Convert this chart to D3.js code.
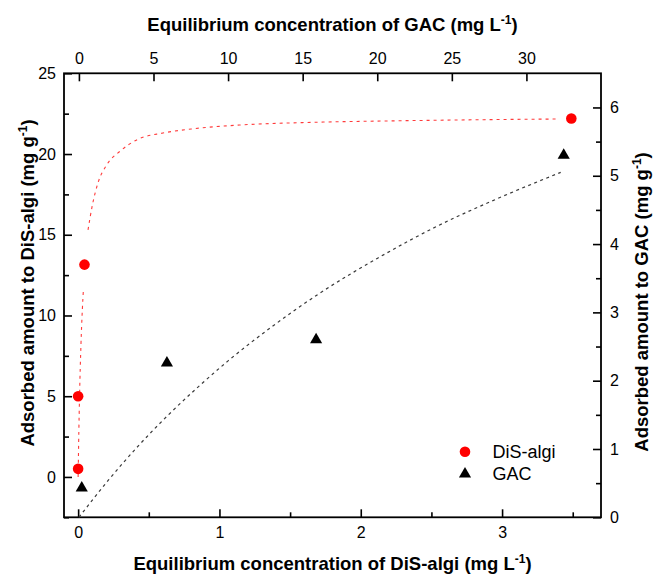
<!DOCTYPE html>
<html>
<head>
<meta charset="utf-8">
<script src="https://cdn.jsdelivr.net/npm/d3@7"></script>
<style>
  html, body { margin: 0; padding: 0; background: #fff; }
  svg { display: block; font-family: "Liberation Sans", Arial, sans-serif; }
</style>
</head>
<body>
<svg id="chart" width="653" height="577"></svg>
<script>
// ---- Data ----
// DiS-algi (bottom x / left y)
const disConc = [0, 0, 0.045, 3.49];
const disAmount = [0.5, 5.0, 13.15, 22.2];
// GAC (top x / right y)
const gacConc = [0.19, 5.9, 15.9, 32.5];
const gacAmount = [0.43, 2.26, 2.6, 5.3];

// Fitted isotherm curves
const disFitLowConc = [0, 0.005, 0.01, 0.02, 0.03, 0.038];
const disFitLowAmount = [0, 2.8, 5.0, 8.2, 10.4, 11.7];
const disFitHighConc = [0.07, 0.1, 0.14, 0.2, 0.3, 0.42, 0.6, 0.8, 1.15, 1.6, 2.2, 2.8, 3.4];
const disFitHighAmount = [15.3, 16.8, 18.2, 19.3, 20.2, 20.9, 21.3, 21.55, 21.8, 21.95, 22.05, 22.12, 22.17];
const gacFitConc = [0, 2, 4, 6, 8, 10, 13, 16, 20, 24, 28, 32.3];
const gacFitAmount = [0, 0.55, 1.05, 1.5, 1.91, 2.29, 2.8, 3.26, 3.79, 4.26, 4.66, 5.05];

// Ticks
const bottomMajor = [0, 1, 2, 3];
const bottomMinor = [0.5, 1.5, 2.5, 3.5];
const topMajor = [0, 5, 10, 15, 20, 25, 30];
const leftMajor = [0, 5, 10, 15, 20, 25];
const leftMinor = [-2.5, 2.5, 7.5, 12.5, 17.5, 22.5];
const rightMajor = [0, 1, 2, 3, 4, 5, 6];
const rightMinor = [0.5, 1.5, 2.5, 3.5, 4.5, 5.5];

const legendLabels = ["DiS-algi", "GAC"];

// ---- Layout ----
const L = 64, R = 601, T = 73.3, B = 517.3;
const svg = d3.select("#chart");

const xB = d3.scaleLinear().domain([-0.1, 3.7]).range([L, R]);
const xT = d3.scaleLinear().domain([-1, 35]).range([L, R]);
const yL = d3.scaleLinear().domain([-2.5, 25]).range([B, T]);
const yR = d3.scaleLinear().domain([0, 6.5]).range([B, T]);

const tickFont = 16;
function styleAxis(g) {
  g.select(".domain").remove();
  g.selectAll(".tick line").attr("stroke", "#000").attr("stroke-width", 1.6);
  g.selectAll(".tick text").attr("font-size", tickFont).attr("fill", "#000")
    .attr("font-family", '"Liberation Sans", Arial, sans-serif');
}

// Bottom
svg.append("g").attr("transform", `translate(0,${B})`)
  .call(d3.axisBottom(xB).tickValues(bottomMajor).tickSizeInner(-8).tickSizeOuter(0).tickPadding(9).tickFormat(d3.format("d")))
  .call(styleAxis);
svg.append("g").attr("transform", `translate(0,${B})`)
  .call(d3.axisBottom(xB).tickValues(bottomMinor).tickSizeInner(-5).tickSizeOuter(0).tickFormat(""))
  .call(styleAxis);
// Top
svg.append("g").attr("transform", `translate(0,${T})`)
  .call(d3.axisTop(xT).tickValues(topMajor).tickSizeInner(-8).tickSizeOuter(0).tickPadding(9).tickFormat(d3.format("d")))
  .call(styleAxis);
// Left
svg.append("g").attr("transform", `translate(${L},0)`)
  .call(d3.axisLeft(yL).tickValues(leftMajor).tickSizeInner(-8).tickSizeOuter(0).tickPadding(8).tickFormat(d3.format("d")))
  .call(styleAxis);
svg.append("g").attr("transform", `translate(${L},0)`)
  .call(d3.axisLeft(yL).tickValues(leftMinor).tickSizeInner(-5).tickSizeOuter(0).tickFormat(""))
  .call(styleAxis);
// Right
svg.append("g").attr("transform", `translate(${R},0)`)
  .call(d3.axisRight(yR).tickValues(rightMajor).tickSizeInner(-8).tickSizeOuter(0).tickPadding(9).tickFormat(d3.format("d")))
  .call(styleAxis);
svg.append("g").attr("transform", `translate(${R},0)`)
  .call(d3.axisRight(yR).tickValues(rightMinor).tickSizeInner(-5).tickSizeOuter(0).tickFormat(""))
  .call(styleAxis);

// Frame
svg.append("rect").attr("x", L).attr("y", T).attr("width", R - L).attr("height", B - T)
  .attr("fill", "none").attr("stroke", "#000").attr("stroke-width", 1.8);

// ---- Fit curves ----
const lineDis = d3.line().x(d => xB(d[0])).y(d => yL(d[1])).curve(d3.curveMonotoneX);
const lineGac = d3.line().x(d => xT(d[0])).y(d => yR(d[1])).curve(d3.curveMonotoneX);

[[disFitLowConc, disFitLowAmount], [disFitHighConc, disFitHighAmount]].forEach(([cs, qs]) => {
  svg.append("path").datum(d3.zip(cs, qs)).attr("d", lineDis)
    .attr("fill", "none").attr("stroke", "#ff3b3b").attr("stroke-width", 1.1)
    .attr("stroke-dasharray", "3,4");
});
svg.append("path").datum(d3.zip(gacFitConc, gacFitAmount)).attr("d", lineGac)
  .attr("fill", "none").attr("stroke", "#3a3a3a").attr("stroke-width", 1.2)
  .attr("stroke-dasharray", "3,3.5");

// ---- Points ----
svg.append("g").selectAll("circle").data(d3.zip(disConc, disAmount)).join("circle")
  .attr("cx", d => xB(d[0])).attr("cy", d => yL(d[1])).attr("r", 5.3).attr("fill", "#ff0000");

const tri = d3.symbol().type(d3.symbolTriangle).size(64);
svg.append("g").selectAll("path").data(d3.zip(gacConc, gacAmount)).join("path")
  .attr("transform", d => `translate(${xT(d[0])},${yR(d[1])})`).attr("d", tri).attr("fill", "#000");

// ---- Legend ----
const lg = svg.append("g");
lg.append("circle").attr("cx", 465).attr("cy", 451.7).attr("r", 5.3).attr("fill", "#ff0000");
lg.append("path").attr("transform", "translate(465,474)").attr("d", tri).attr("fill", "#000");
lg.selectAll("text").data(legendLabels).join("text")
  .attr("x", 492.5).attr("y", (d, i) => 451.7 + i * 21.8).attr("dy", "0.36em")
  .attr("font-size", 18).attr("fill", "#000").text(d => d);

// ---- Axis titles ----
function title(x, y, rot, main, sup) {
  const t = svg.append("text").attr("x", x).attr("y", y).attr("text-anchor", "middle")
    .attr("font-size", 18.5).attr("font-weight", "bold").attr("fill", "#000");
  if (rot) t.attr("transform", `rotate(${rot},${x},${y})`);
  t.append("tspan").text(main);
  t.append("tspan").attr("font-size", 12).attr("dy", -7).text(sup);
  t.append("tspan").attr("dy", 7).text(")");
}
title(332.5, 30.5, 0, "Equilibrium concentration of GAC (mg L", "-1");
title(332.5, 570, 0, "Equilibrium concentration of DiS-algi (mg L", "-1");
title(33.5, 283, -90, "Adsorbed amount to DiS-algi (mg g", "-1");
title(648, 302, -90, "Adsorbed amount to GAC (mg g", "-1");
</script>
</body>
</html>
